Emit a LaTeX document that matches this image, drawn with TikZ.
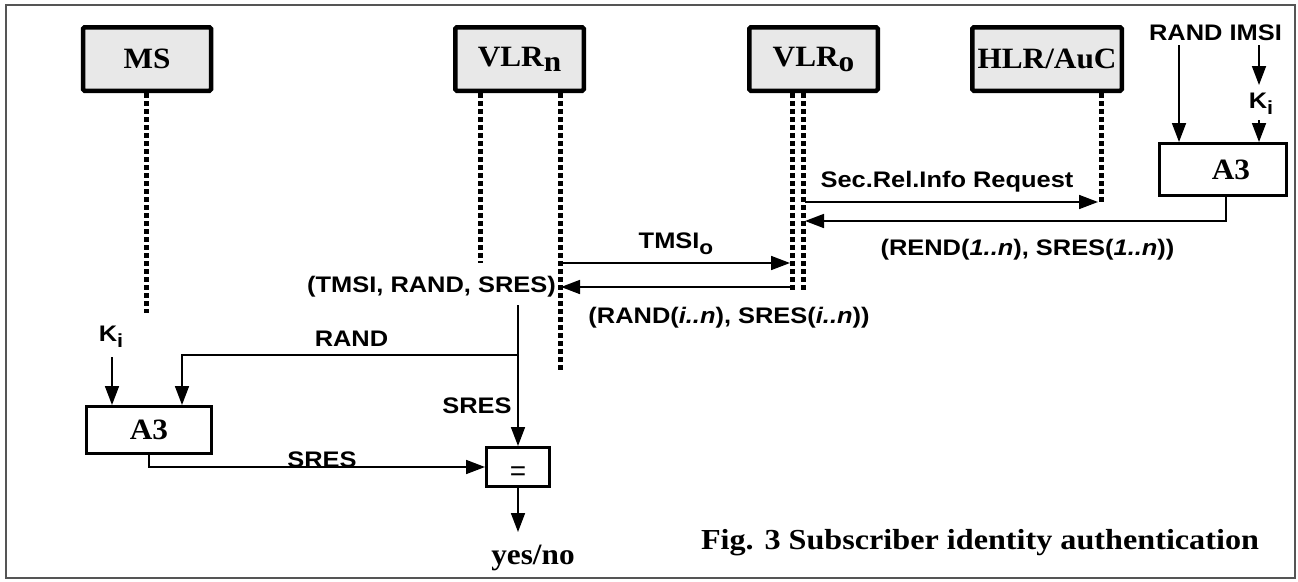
\documentclass[tikz,border=0pt]{standalone}
\usepackage{fontspec}
\setmainfont{Liberation Serif}
\setsansfont{Liberation Sans}
\usepackage{graphicx}
\usetikzlibrary{arrows.meta}
\definecolor{boxgray}{HTML}{E8E8E8}
\definecolor{framegray}{HTML}{555555}
\newcommand{\fser}{\fontsize{29.5}{32}\selectfont\bfseries}
\newcommand{\fsan}{\sffamily\bfseries\fontsize{22.5}{26}\selectfont}
\newcommand{\hs}[1]{\scalebox{1.13}[1]{#1}}
\newcommand{\hr}[1]{\scalebox{1.06}[1]{#1}}
\newcommand{\sub}[2]{\raisebox{-#1}{#2}}
\tikzset{
  actor/.style={draw, line width=4.5pt, fill=boxgray, rounded corners=1.5pt, inner sep=0pt, minimum height=63.5pt, font=\fser},
  algbox/.style={draw, line width=3pt, fill=white, inner sep=0pt, font=\fser},
  life/.style={line width=5pt, dash pattern=on 4.5pt off 3.5pt},
  arr/.style={line width=1.7pt, -{Triangle[length=19pt,width=14pt]}},
  lbl/.style={inner sep=0pt, font=\fsan},
  slbl/.style={inner sep=0pt, font=\fser}
}
\begin{document}
\begin{tikzpicture}[x=1pt,y=-1pt]
\useasboundingbox (0,0) rectangle (1298,581);
\draw[framegray, line width=1.5pt] (6,5) rectangle (1295,578);

% actors
\node[actor, minimum width=128pt] (ms) at (147,59) {\raisebox{-2pt}{\hr{MS}}};
\node[actor, minimum width=128.5pt] (vlrn) at (519.5,59) {\hr{VLR\sub{5pt}{n}}};
\node[actor, minimum width=128.5pt] (vlro) at (813.5,59) {\hr{VLR\sub{5pt}{o}}};
\node[actor, minimum width=149.5pt] (hlr) at (1047,59) {\hr{HLR/AuC}};

% lifeline ends
\coordinate (msE) at (146,313);
\coordinate (vnL) at (480,263);
\coordinate (vnR) at (560,370);
\coordinate (voL) at (792,290);
\coordinate (voR) at (803,290);
\coordinate (hlE) at (1101,205);
\draw[life] (ms.south -| msE) -- (msE);
\draw[life] (vlrn.south -| vnL) -- (vnL);
\draw[life] (vlrn.south -| vnR) -- (vnR);
\draw[life] (vlro.south -| voL) -- (voL);
\draw[life] (vlro.south -| voR) -- (voR);
\draw[life] (hlr.south -| hlE) -- (hlE);

% AuC side
\node[lbl] (randimsi) at (1215.5,33) {\hs{RAND IMSI}};
\node[algbox, minimum width=127pt, minimum height=52pt] (a3r) at (1223,169.5) {};
\node[slbl] (a3rt) at (1231,170) {\hr{A3}};
\node[lbl] (kir) at (1261,104) {\hs{K\sub{6pt}{\fontsize{19}{19}\selectfont i}}};
\coordinate (randS) at (1179,45);
\coordinate (imsiS) at (1259,45);
\coordinate (imsiE) at (1259,85);
\coordinate (kiS) at (1259,120);
\draw[arr] (randS) -- (a3r.north -| randS);
\draw[arr] (imsiS) -- (imsiE);
\draw[arr] (kiS) -- (a3r.north -| kiS);
\coordinate (a3rOut) at (1226,197);
\coordinate (retVo) at (805,221);
\draw[arr] (a3rOut) |- (retVo);
\coordinate (reqS) at (805,202);
\coordinate (reqE) at (1098,202);
\draw[arr] (reqS) -- (reqE);
\node[lbl] (reqlbl) at (947,182) {\hs{Sec.Rel.Info Request}};
\node[lbl] (rendlbl) at (1027.5,250) {\hs{(REND(\textit{1..n}), SRES(\textit{1..n}))}};

% VLR exchange
\coordinate (tmS) at (560,263);
\coordinate (tmE) at (790,263);
\draw[arr] (tmS) -- (tmE);
\node[lbl] (tmlbl) at (676,244) {\hs{TMSI\sub{6pt}{\fontsize{20}{20}\selectfont o}}};
\coordinate (bkS) at (790,287);
\coordinate (bkE) at (561,287);
\draw[arr] (bkS) -- (bkE);
\node[lbl, anchor=east] (triple) at (556,287) {\hs{(TMSI, RAND, SRES)}};
\node[lbl] (randi) at (729,318) {\hs{(RAND(\textit{i..n}), SRES(\textit{i..n}))}};

% MS side computation
\node[algbox, minimum width=125.5pt, minimum height=47pt] (a3l) at (149,430) {\raisebox{-2pt}{\hr{A3}}};
\node[algbox, minimum width=63pt, minimum height=39pt] (eq) at (518,467) {};
\node[inner sep=0pt, font=\sffamily\fontsize{28}{28}\selectfont] (eqsign) at (518,474) {=};
\coordinate (vtop) at (518,305);
\coordinate (br) at (518,355);
\coordinate (brL) at (182,355);
\draw[arr] (vtop) -- (eq.north);
\draw[arr] (br) -- (brL) -- (a3l.north -| brL);
\node[lbl] (randlbl) at (351.5,339) {\hs{RAND}};
\node[lbl] (kil) at (111,337) {\hs{K\sub{6pt}{\fontsize{19}{19}\selectfont i}}};
\coordinate (kilS) at (112,357);
\draw[arr] (kilS) -- (a3l.north -| kilS);
\node[lbl] (sresv) at (477,406) {\hs{SRES}};
\coordinate (a3lOut) at (149,455);
\draw[arr] (a3lOut) |- (eq.west);
\node[lbl] (sresb) at (322,460) {\hs{SRES}};
\coordinate (yn) at (518,532);
\draw[arr] (eq.south) -- (yn);
\node[slbl] (ynlbl) at (533,558) {\hr{yes/no}};

\node[inner sep=0pt, font=\fontsize{29}{34}\selectfont\bfseries] (cap) at (980,543) {\scalebox{1.11}[1]{Fig. 3 Subscriber identity authentication}};
\end{tikzpicture}
\end{document}
